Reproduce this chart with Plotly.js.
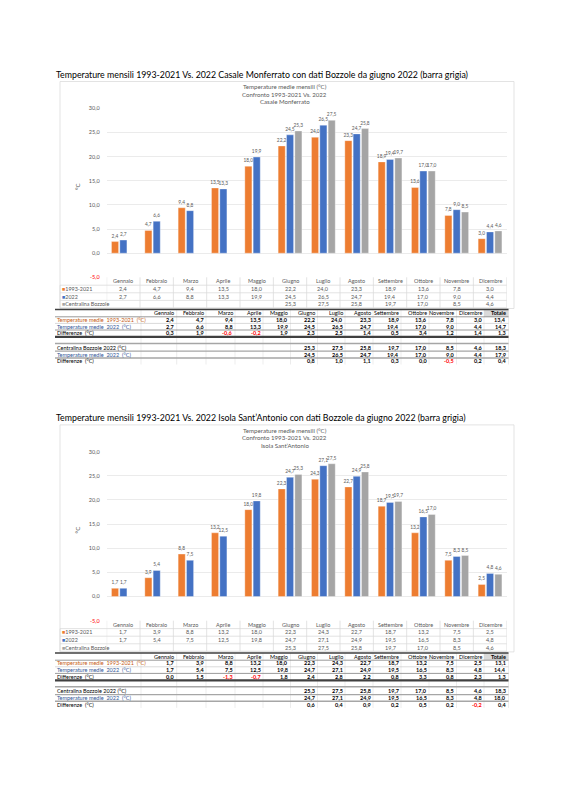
<!DOCTYPE html>
<html><head><meta charset="utf-8">
<script src="https://cdn.plot.ly/plotly-3.0.1.min.js"></script>
<style>html,body{margin:0;padding:0;background:#fff;} #chart{width:566px;height:800px;}</style>
</head><body><div id="chart"></div>
<script>
// ---------- DATA ----------
const months = ['Gennaio','Febbraio','Marzo','Aprile','Maggio','Giugno','Luglio','Agosto','Settembre','Ottobre','Novembre','Dicembre'];
const yTicks = [-5, 0, 5, 10, 15, 20, 25, 30];
const seriesNames = ['1993-2021', '2022', 'Centralina Bozzole'];
const totalLabel = 'Totale';

// Casale Monferrato
const casale1993 = [2.4, 4.7, 9.4, 13.5, 18.0, 22.2, 24.0, 23.3, 18.9, 13.6, 7.8, 3.0];
const casale2022 = [2.7, 6.6, 8.8, 13.3, 19.9, 24.5, 26.5, 24.7, 19.4, 17.0, 9.0, 4.4];
const casaleDiff = [0.3, 1.9, -0.6, -0.2, 1.9, 2.3, 2.5, 1.4, 0.5, 3.4, 1.2, 1.4];
const casaleTotals = [13.4, 14.7, 1.3];
const casaleBozzoleDiff = [null, null, null, null, null, 0.8, 1.0, 1.1, 0.3, 0.0, -0.5, 0.2];
const casaleBozzoleTotals = [18.3, 17.9, 0.4];

// Isola Sant'Antonio
const isola1993 = [1.7, 3.9, 8.8, 13.2, 18.0, 22.3, 24.3, 22.7, 18.7, 13.2, 7.5, 2.5];
const isola2022 = [1.7, 5.4, 7.5, 12.5, 19.8, 24.7, 27.1, 24.9, 19.5, 16.5, 8.3, 4.8];
const isolaDiff = [0.0, 1.5, -1.3, -0.7, 1.8, 2.4, 2.8, 2.2, 0.8, 3.3, 0.8, 2.3];
const isolaTotals = [13.1, 14.4, 1.3];
const isolaBozzoleDiff = [null, null, null, null, null, 0.6, 0.4, 0.9, 0.2, 0.5, 0.2, -0.2];
const isolaBozzoleTotals = [18.3, 18.0, 0.4];

// Centralina Bozzole 2022 (from June)
const bozzole2022 = [null, null, null, null, null, 25.3, 27.5, 25.8, 19.7, 17.0, 8.5, 4.6];

// ---------- STYLE / LAYOUT HELPERS ----------
const FONT = "Lato, 'Liberation Sans', Arial, sans-serif";
const ORANGE = '#ED7D31', BLUE = '#4472C4', GRAY = '#A5A5A5';
const ORANGE_TXT = '#C55A11', BLUE_TXT = '#2F5597', TXT_GRAY = '#595959';
const W = 566, H = 800;
const X = p => p / W;
const Y = p => 1 - p / H;
const fmt = v => v.toFixed(1).replace('.', ',');
const FS = 5.5;

const charts = [
  { title: 'Temperature mensili 1993-2021 Vs. 2022 Casale Monferrato con dati Bozzole da giugno 2022 (barra grigia)',
    place: 'Casale Monferrato', s1993: casale1993, s2022: casale2022, diff: casaleDiff, totals: casaleTotals,
    bDiff: casaleBozzoleDiff, bTotals: casaleBozzoleTotals, dy: 0 },
  { title: 'Temperature mensili 1993-2021 Vs. 2022 Isola Sant\u2019Antonio con dati Bozzole da giugno 2022 (barra grigia)',
    place: 'Isola Sant\u2019Antonio', s1993: isola1993, s2022: isola2022, diff: isolaDiff, totals: isolaTotals,
    bDiff: isolaBozzoleDiff, bTotals: isolaBozzoleTotals, dy: 343.4 }
];

const data = [], annotations = [], shapes = [];
const layout = {
  width: W, height: H, margin: {l: 0, r: 0, t: 0, b: 0},
  paper_bgcolor: '#fff', plot_bgcolor: '#fff',
  separators: ',.', barmode: 'group', bargap: 0.25, bargroupgap: 0.15,
  showlegend: false, font: {family: FONT, color: TXT_GRAY}
};

function txt(x, y, text, opts) {
  annotations.push(Object.assign({
    x: x, y: y, xref: 'paper', yref: 'paper', text: text, showarrow: false,
    xanchor: 'center', yanchor: 'middle', borderpad: 0,
    font: {family: FONT, size: FS, color: TXT_GRAY}
  }, opts || {}));
}
function hline(y, x0, x1, color, width) {
  shapes.push({type: 'line', xref: 'paper', yref: 'paper', x0: X(x0), x1: X(x1), y0: Y(y), y1: Y(y), line: {color: color, width: width}});
}
function vline(x, y0, y1, color, width, xref) {
  shapes.push({type: 'line', xref: xref || 'paper', yref: 'paper', x0: xref ? x : X(x), x1: xref ? x : X(x), y0: Y(y0), y1: Y(y1), line: {color: color, width: width}});
}

const colEdges = [141, 176.7, 206, 235, 263, 290.5, 317.5, 345, 373, 401, 429, 456.5, 484, 508.5];

charts.forEach((c, k) => {
  const dy = c.dy;
  const xa = k ? 'x2' : 'x', ya = k ? 'y2' : 'y';
  const xk = k ? 'xaxis2' : 'xaxis', yk = k ? 'yaxis2' : 'yaxis';

  // bars
  [[c.s1993, ORANGE, seriesNames[0]], [c.s2022, BLUE, seriesNames[1]], [bozzole2022, GRAY, seriesNames[2]]].forEach(s => {
    data.push({
      type: 'bar', x: months, y: s[0], name: s[2], xaxis: xa, yaxis: ya,
      marker: {color: s[1], line: {color: 'rgba(255,255,255,0.55)', width: 0.6}},
      texttemplate: '%{y:.1f}', textposition: 'outside', constraintext: 'none', cliponaxis: false,
      textfont: {family: FONT, size: 4.8, color: TXT_GRAY}, hoverinfo: 'skip'
    });
  });

  layout[xk] = {domain: [X(106.7), X(506.7)], anchor: ya, type: 'category', range: [-0.5, 11.5],
    showticklabels: false, showgrid: false, zeroline: false, showline: false, ticks: '', fixedrange: true};
  layout[yk] = {domain: [Y(277.3 + dy), Y(108.3 + dy)], anchor: xa, range: [-5, 30],
    tickvals: yTicks, ticktext: yTicks.map(v => v < 0 ? '<span style="color:#FF0000">' + fmt(v) + '</span>' : fmt(v)),
    showgrid: true, gridcolor: '#E4E4E4', gridwidth: 0.75, zeroline: false, showline: false, ticks: '',
    tickfont: {family: FONT, size: FS, color: TXT_GRAY}, ticklabelstandoff: 6, fixedrange: true};

  // chart frame
  shapes.push({type: 'rect', xref: 'paper', yref: 'paper', x0: X(60), x1: X(514), y0: Y(81.5 + dy), y1: Y(308.5 + dy),
    line: {color: '#D9D9D9', width: 0.75}, layer: 'below'});

  // main title + chart titles
  txt(X(55), Y(74 + dy), c.title, {xanchor: 'left', font: {family: FONT, size: 8.8, color: '#000'}});
  txt(X(284.5), Y(86.7 + dy), 'Temperature medie mensili (°C)', {font: {family: FONT, size: 6.1, color: TXT_GRAY}});
  txt(X(284.5), Y(94.3 + dy), 'Confronto 1993-2021 Vs. 2022', {font: {family: FONT, size: 6.1, color: TXT_GRAY}});
  txt(X(284.5), Y(102 + dy), c.place, {font: {family: FONT, size: 6.1, color: TXT_GRAY}});
  txt(X(77), Y(187 + dy), '°C', {textangle: -90, font: {family: FONT, size: 6.1, color: TXT_GRAY}});

  // chart data table
  const rowsY = [289, 296.7, 304.2];
  const rowVals = [c.s1993, c.s2022, bozzole2022];
  const rowCols = [ORANGE, BLUE, GRAY];
  months.forEach((m, i) => {
    annotations.push({x: m, xref: xa, y: Y(281.2 + dy), yref: 'paper', text: m, showarrow: false,
      font: {family: FONT, size: FS, color: TXT_GRAY}, xanchor: 'center', yanchor: 'middle'});
    rowVals.forEach((arr, r) => {
      if (arr[i] == null) return;
      annotations.push({x: m, xref: xa, y: Y(rowsY[r] + dy), yref: 'paper', text: fmt(arr[i]), showarrow: false,
        font: {family: FONT, size: FS, color: TXT_GRAY}, xanchor: 'center', yanchor: 'middle'});
    });
  });
  seriesNames.forEach((n, r) => {
    txt(X(61), Y(rowsY[r] + dy), '<span style="color:' + rowCols[r] + '">■</span>' + n, {xanchor: 'left', font: {family: FONT, size: 5.4, color: TXT_GRAY}});
  });
  for (let i = 0; i <= 12; i++) vline(i - 0.5, 277.3 + dy, 307.8 + dy, '#D9D9D9', 0.75, xa);
  vline(60, 285.2 + dy, 307.8 + dy, '#D9D9D9', 0.75);
  [285.2, 292.8, 300.4, 307.8].forEach(y => hline(y + dy, 60, 506.7, '#D9D9D9', 0.75));

  // spreadsheet table
  shapes.push({type: 'rect', xref: 'paper', yref: 'paper', x0: X(colEdges[12]), x1: X(colEdges[13]),
    y0: Y(309.6 + dy), y1: Y(316.8 + dy), fillcolor: '#D9D9D9', line: {width: 0}, layer: 'below'});
  colEdges.forEach(e => vline(e, 309.6 + dy, 364.5 + dy, '#D9D9D9', 0.5));
  [[309.6, '#404040', 1.5], [316.8, '#808080', 0.8], [323.4, '#BFBFBF', 0.6], [330, '#808080', 0.8],
   [336.9, '#404040', 2.2], [343.4, '#A6A6A6', 1.5], [351.2, '#A6A6A6', 1.2], [357.9, '#A6A6A6', 1.5]]
    .forEach(l => hline(l[0] + dy, 55, colEdges[13], l[1], l[2]));

  months.concat([totalLabel]).forEach((h, i) => {
    txt(X(colEdges[i + 1] - 1.5), Y(313.3 + dy), i === 12 ? '<b>' + h + '</b>' : h,
      {xanchor: 'right', font: {family: FONT, size: FS, color: '#000'}});
  });
  const mask2022 = c.s2022.map((v, i) => bozzole2022[i] == null ? null : v);
  const rows = [
    {label: 'Temperature medie  1993-2021  (°C)', color: ORANGE_TXT, vals: c.s1993, total: c.totals[0], y: 320},
    {label: 'Temperature medie  2022  (°C)', color: BLUE_TXT, vals: c.s2022, total: c.totals[1], y: 326.7},
    {label: 'Differenze  (°C)', color: '#000', vals: c.diff, total: c.totals[2], y: 333.3},
    {label: 'Centralina Bozzole 2022 (°C)', color: '#000', vals: bozzole2022, total: c.bTotals[0], y: 348},
    {label: 'Temperature medie  2022  (°C)', color: BLUE_TXT, vals: mask2022, total: c.bTotals[1], y: 354.7},
    {label: 'Differenze  (°C)', color: '#000', vals: c.bDiff, total: c.bTotals[2], y: 361.3}
  ];
  rows.forEach(r => {
    txt(X(56), Y(r.y + dy), r.label, {xanchor: 'left', font: {family: FONT, size: FS, color: r.color}});
    r.vals.concat([r.total]).forEach((v, i) => {
      if (v == null) return;
      txt(X(colEdges[i + 1] - 1.5), Y(r.y + dy), '<b>' + fmt(v) + '</b>',
        {xanchor: 'right', font: {family: FONT, size: FS, color: v < 0 ? '#FF0000' : '#000'}});
    });
  });
});

layout.annotations = annotations;
layout.shapes = shapes;
Plotly.newPlot('chart', data, layout, {staticPlot: true, displayModeBar: false});
</script>
</body></html>
